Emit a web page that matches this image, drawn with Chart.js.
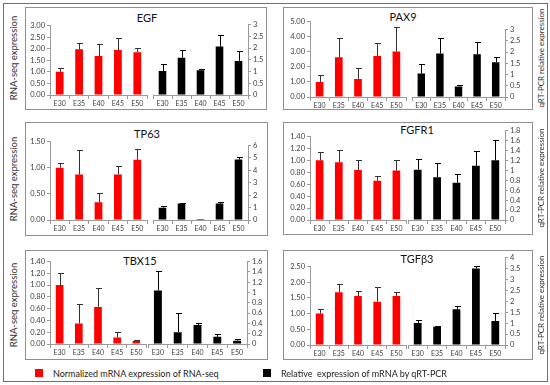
<!DOCTYPE html>
<html><head><meta charset="utf-8">
<script src="https://cdn.jsdelivr.net/npm/chart.js@4/dist/chart.umd.min.js"></script>
<style>
body{margin:0;background:#fff;font-family:Lato,'Liberation Sans',sans-serif;}
#fig{position:relative;width:550px;height:385px;overflow:hidden;background:#fff;}
.box{position:absolute;border:1px solid #8f8f8f;box-sizing:border-box;}
.outer{position:absolute;border:1px solid #6f6f6f;box-sizing:border-box;}
.ttl{position:absolute;font-size:11px;color:#111;transform:translate(-50%,-50%);white-space:nowrap;}
.ytl{position:absolute;font-size:9px;color:#333;white-space:nowrap;transform:translate(-50%,-50%) rotate(-90deg);}
canvas{position:absolute;}
.leg{position:absolute;font-size:9px;color:#222;white-space:pre;transform:translateY(-50%);}
.sw{position:absolute;width:8px;height:8px;}
</style></head>
<body><div id="fig"></div>
<script>
// ---------------- data ----------------
const categories = ['E30','E35','E40','E45','E50'];
const geneNames = ['EGF','PAX9','TP63','FGFR1','TBX15','TGFβ3'];

const egfRnaSeq     = [1.00, 1.97, 1.68, 1.94, 1.85];
const egfRnaSeqSd   = [0.15, 0.27, 0.54, 0.53, 0.20];
const egfQpcr       = [1.02, 1.59, 1.05, 2.06, 1.45];
const egfQpcrSd     = [0.28, 0.34, 0.04, 0.50, 0.41];

const pax9RnaSeq    = [1.00, 2.63, 1.20, 2.72, 3.02];
const pax9RnaSeqSd  = [0.49, 1.29, 0.74, 0.86, 1.64];
const pax9Qpcr      = [1.04, 1.93, 0.47, 1.90, 1.55];
const pax9QpcrSd    = [0.41, 0.69, 0.07, 0.54, 0.21];

const tp63RnaSeq    = [1.00, 0.87, 0.34, 0.87, 1.15];
const tp63RnaSeqSd  = [0.09, 0.47, 0.18, 0.16, 0.21];
const tp63Qpcr      = [0.99, 1.33, 0.08, 1.33, 4.87];
const tp63QpcrSd    = [0.13, 0.06, 0.00, 0.12, 0.20];

const fgfr1RnaSeq   = [1.00, 0.97, 0.84, 0.66, 0.83];
const fgfr1RnaSeqSd = [0.14, 0.21, 0.16, 0.08, 0.18];
const fgfr1Qpcr     = [1.01, 0.86, 0.75, 1.09, 1.20];
const fgfr1QpcrSd   = [0.21, 0.29, 0.18, 0.29, 0.41];

const tbx15RnaSeq   = [1.00, 0.35, 0.63, 0.11, 0.05];
const tbx15RnaSeqSd = [0.20, 0.33, 0.32, 0.10, 0.02];
const tbx15Qpcr     = [1.04, 0.23, 0.37, 0.14, 0.065];
const tbx15QpcrSd   = [0.37, 0.37, 0.04, 0.05, 0.025];

const tgfb3RnaSeq   = [1.00, 1.68, 1.56, 1.38, 1.56];
const tgfb3RnaSeqSd = [0.16, 0.27, 0.17, 0.46, 0.12];
const tgfb3Qpcr     = [1.01, 0.83, 1.63, 3.50, 1.10];
const tgfb3QpcrSd   = [0.14, 0.02, 0.14, 0.13, 0.35];

const rnaAxisMax  = [3, 5, 1.5, 1.4, 1.4, 2.5];
const rnaAxisStep = [0.5, 1, 0.5, 0.2, 0.2, 0.5];
const pcrAxisMax  = [3, 3, 6, 1.8, 1.6, 4];
const pcrAxisStep = [0.5, 0.5, 1, 0.2, 0.2, 0.5];

const leftAxisTitle  = 'RNA-seq expression';
const rightAxisTitle = 'qRT-PCR relative expression';
const legendLabels   = ['Normalized mRNA expression of RNA-seq', 'Relative  expression of mRNA by qRT-PCR'];

const rnaSeries = [egfRnaSeq, pax9RnaSeq, tp63RnaSeq, fgfr1RnaSeq, tbx15RnaSeq, tgfb3RnaSeq];
const rnaSds    = [egfRnaSeqSd, pax9RnaSeqSd, tp63RnaSeqSd, fgfr1RnaSeqSd, tbx15RnaSeqSd, tgfb3RnaSeqSd];
const pcrSeries = [egfQpcr, pax9Qpcr, tp63Qpcr, fgfr1Qpcr, tbx15Qpcr, tgfb3Qpcr];
const pcrSds    = [egfQpcrSd, pax9QpcrSd, tp63QpcrSd, fgfr1QpcrSd, tbx15QpcrSd, tgfb3QpcrSd];

// ---------------- layout (pixels) ----------------
// box: panel frame; red/black: plot area [x0, x1, yTop(max), yBottom(0)]
const panels = [
  {box:[25,7,267,110],  title:[147,17],  red:[50,147,25,95],    black:[153,248,24,95],   side:'L', mid:58},
  {box:[283,7,533,110], title:[403,16],  red:[310,406,21,97],   black:[412,505,29,97],   side:'R', mid:58},
  {box:[25,122,268,236],title:[147,133], red:[50,147,141,220],  black:[153,248,145,220], side:'L', mid:179},
  {box:[283,122,533,235],title:[417,129],red:[310,406,136,220], black:[408,505,130,220], side:'R', mid:178},
  {box:[25,250,268,360],title:[140,260], red:[50,146,261,344],  black:[148,247,261,344], side:'L', mid:305},
  {box:[283,250,533,360],title:[417,258],red:[310,406,266,345], black:[408,505,257,345], side:'R', mid:305}
];

Chart.defaults.font.family = "Lato, 'Liberation Sans', sans-serif";
Chart.defaults.font.size = 7.5;
Chart.defaults.color = '#404040';

const fig = document.getElementById('fig');
function el(cls, css, text){
  const d = document.createElement('div'); d.className = cls;
  Object.assign(d.style, css); if (text!==undefined) d.textContent = text;
  fig.appendChild(d); return d;
}
el('outer', {left:'3px', top:'3px', width:'545px', height:'379px'});

const errorBars = {
  id: 'errorBars',
  afterDatasetsDraw(chart){
    const ctx = chart.ctx;
    chart.data.datasets.forEach((ds, i) => {
      const meta = chart.getDatasetMeta(i);
      const ys = chart.scales[meta.yAxisID];
      ctx.save();
      ctx.strokeStyle = ds.errColor; ctx.lineWidth = 1;
      meta.data.forEach((bar, j) => {
        const sd = ds.sd[j]; if (!sd) return;
        const yT = Math.round(ys.getPixelForValue(ds.data[j] + sd)) + 0.5;
        const x = Math.round(bar.x) + 0.5;
        ctx.beginPath();
        ctx.moveTo(x, bar.y); ctx.lineTo(x, yT);
        ctx.moveTo(x - 2.5, yT); ctx.lineTo(x + 3.5, yT);
        ctx.stroke();
      });
      ctx.restore();
    });
  }
};

function makeChart(rect, values, sd, color, errColor, max, step, side, fmt){
  const MT = 6, MB = 14, YW = side === 'left' ? 30 : 22, GAP = 2;
  const ML = side === 'left' ? YW : GAP, MR = side === 'left' ? GAP : YW;
  const c = document.createElement('canvas');
  const w = rect[1] - rect[0] + ML + MR, h = rect[3] - rect[2] + MT + MB;
  c.width = w; c.height = h;
  c.style.left = (rect[0] - ML) + 'px'; c.style.top = (rect[2] - MT) + 'px';
  c.style.width = w + 'px'; c.style.height = h + 'px';
  fig.appendChild(c);
  new Chart(c, {
    type: 'bar',
    data: { labels: categories,
      datasets: [{ data: values, sd: sd, errColor: errColor, backgroundColor: color,
                   borderWidth: 0, barPercentage: 0.4, categoryPercentage: 1 }] },
    options: {
      responsive: false, animation: false, devicePixelRatio: 1,
      layout: { padding: { top: MT, bottom: 0, left: side === 'left' ? 0 : GAP, right: side === 'left' ? GAP : 0 } },
      plugins: { legend: {display:false}, tooltip: {enabled:false}, title: {display:false} },
      scales: {
        x: { offset: true,
             grid: { offset: true, drawOnChartArea: false, tickLength: 4, color: '#9a9a9a' },
             border: { color: '#9a9a9a' },
             ticks: { maxRotation: 0, autoSkip: false, padding: 1, font: {size: 7} },
             afterFit: s => { s.height = MB; } },
        y: { position: side, min: 0, max: max,
             grid: { drawOnChartArea: false, tickLength: 3, color: '#9a9a9a' },
             border: { color: '#9a9a9a' },
             ticks: { stepSize: step, padding: 2, autoSkip: false, callback: fmt },
             afterFit: s => { s.width = YW; } }
      }
    },
    plugins: [errorBars]
  });
}

const fmtFixed = v => Number(v).toFixed(2);
const fmtPlain = v => String(parseFloat(Number(v).toFixed(2)));

panels.forEach((p, k) => {
  const b = p.box;
  el('box', {left:b[0]+'px', top:b[1]+'px', width:(b[2]-b[0])+'px', height:(b[3]-b[1])+'px'});
  el('ttl', {left:p.title[0]+'px', top:p.title[1]+'px'}, geneNames[k]);
  makeChart(p.red, rnaSeries[k], rnaSds[k], '#ff0000', '#333333', rnaAxisMax[k], rnaAxisStep[k], 'left', fmtFixed);
  makeChart(p.black, pcrSeries[k], pcrSds[k], '#000000', '#000000', pcrAxisMax[k], pcrAxisStep[k], 'right', fmtPlain);
  if (p.side === 'L') el('ytl', {left:'13px', top:p.mid+'px', fontSize:'9.5px'}, leftAxisTitle);
  else el('ytl', {left:'541px', top:p.mid+'px', fontSize:'8px'}, rightAxisTitle);
});

el('sw', {left:'35px', top:'369px', background:'#ff0000'});
el('leg', {left:'53px', top:'373px'}, legendLabels[0]);
el('sw', {left:'263px', top:'369px', background:'#000000'});
el('leg', {left:'281px', top:'373px'}, legendLabels[1]);
</script>
</body></html>
